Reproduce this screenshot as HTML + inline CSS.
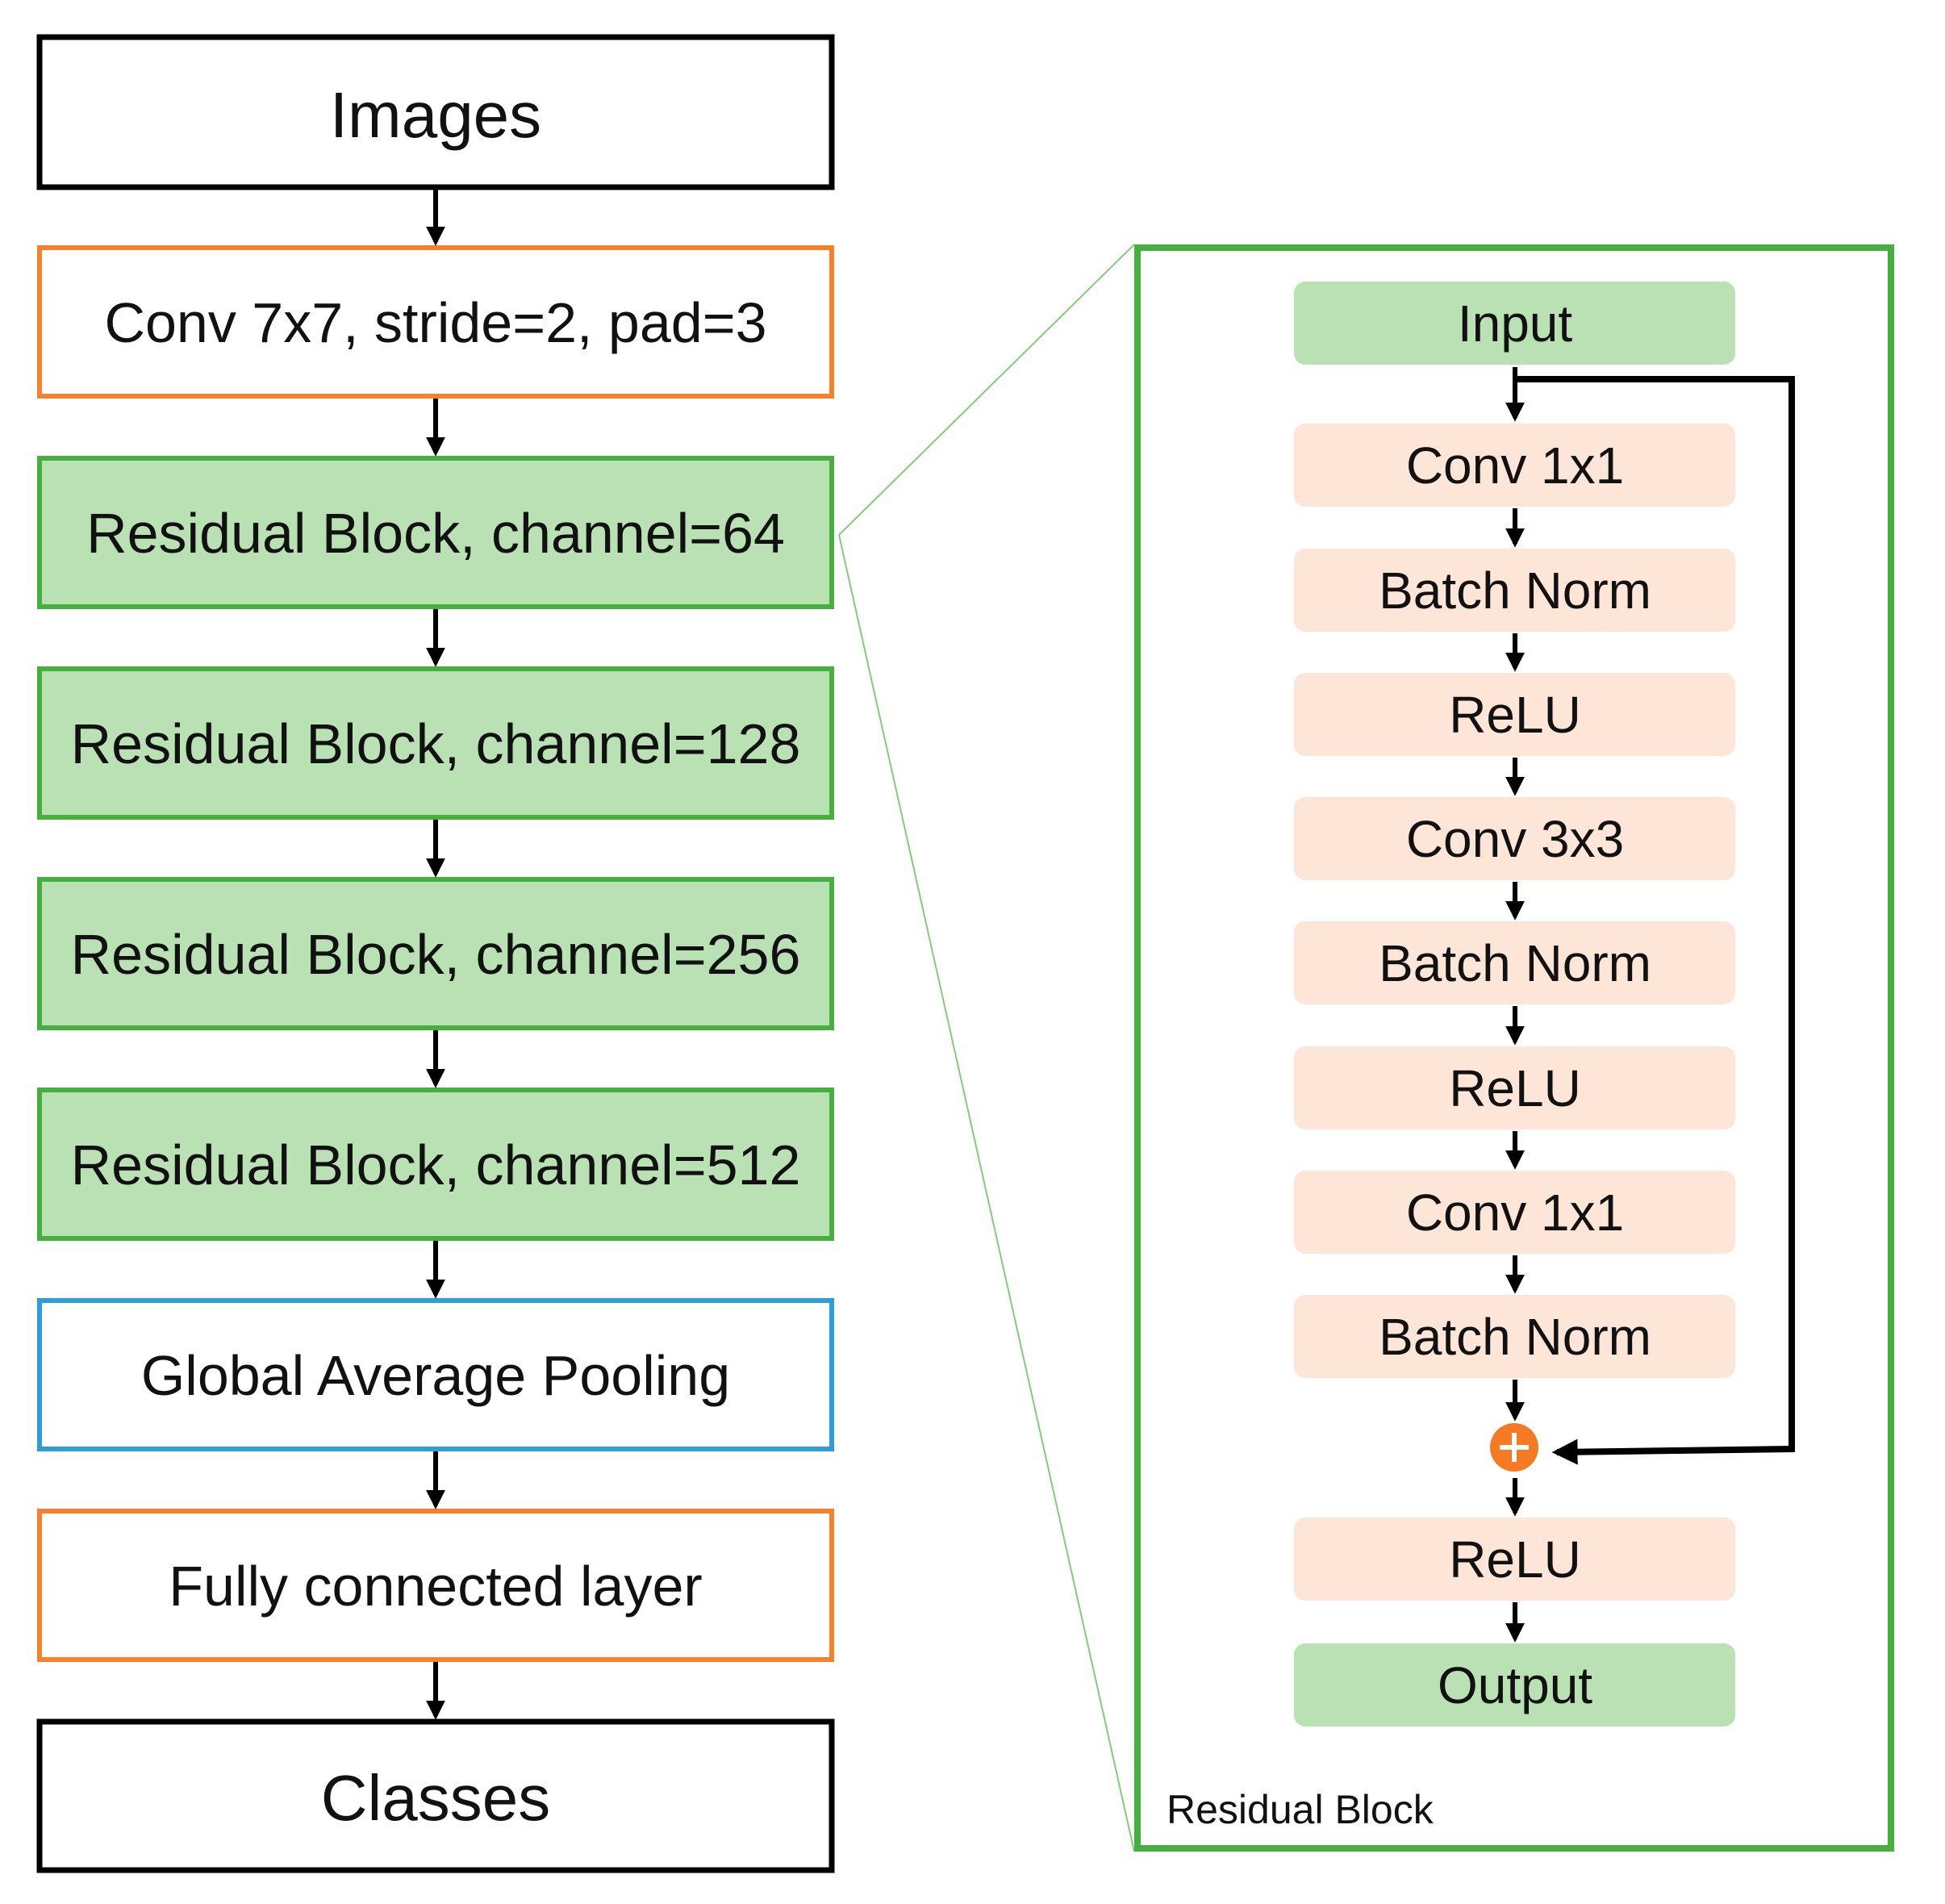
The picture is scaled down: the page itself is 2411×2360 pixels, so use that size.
<!DOCTYPE html>
<html><head><meta charset="utf-8"><style>
html,body{margin:0;padding:0;background:#fff;}
svg{display:block;}
text{font-family:"Liberation Sans",sans-serif;fill:#111;}
</style></head><body>
<svg width="2411" height="2360" viewBox="0 0 2411 2360" xmlns="http://www.w3.org/2000/svg">
<defs>
<marker id="ah" markerWidth="4" markerHeight="4" refX="3.2" refY="2" orient="auto" markerUnits="strokeWidth">
<path d="M0,0 L4,2 L0,4 z" fill="#000"/>
</marker>
</defs>
<line x1="1040" y1="663" x2="1406" y2="303" stroke="#7fcf77" stroke-width="2"/>
<line x1="1040" y1="663" x2="1406" y2="2295" stroke="#7fcf77" stroke-width="2"/>

<g stroke-width="6">
<rect x="49" y="46" width="982" height="186" fill="#fff" stroke="#000" stroke-width="7"/>
<rect x="49" y="307" width="982" height="184" fill="#fff" stroke="#f7802c"/>
<rect x="49" y="568" width="982" height="184" fill="#b9e1b4" stroke="#46b03e"/>
<rect x="49" y="829" width="982" height="184" fill="#b9e1b4" stroke="#46b03e"/>
<rect x="49" y="1090" width="982" height="184" fill="#b9e1b4" stroke="#46b03e"/>
<rect x="49" y="1351" width="982" height="184" fill="#b9e1b4" stroke="#46b03e"/>
<rect x="49" y="1612" width="982" height="184" fill="#fff" stroke="#2e9de0"/>
<rect x="49" y="1873" width="982" height="184" fill="#fff" stroke="#f7802c"/>
<rect x="49" y="2134" width="982" height="184" fill="#fff" stroke="#000" stroke-width="7"/>
</g>
<g text-anchor="middle" font-size="70">
<text x="540" y="170" font-size="80">Images</text>
<text x="540" y="424">Conv 7x7, stride=2, pad=3</text>
<text x="540" y="685">Residual Block, channel=64</text>
<text x="540" y="946">Residual Block, channel=128</text>
<text x="540" y="1207">Residual Block, channel=256</text>
<text x="540" y="1468">Residual Block, channel=512</text>
<text x="540" y="1729">Global Average Pooling</text>
<text x="540" y="1990">Fully connected layer</text>
<text x="540" y="2256" font-size="80">Classes</text>
</g>
<g stroke="#000" stroke-width="6" fill="none">
<line x1="540" y1="235" x2="540" y2="300" marker-end="url(#ah)"/>
<line x1="540" y1="494" x2="540" y2="561" marker-end="url(#ah)"/>
<line x1="540" y1="755" x2="540" y2="822" marker-end="url(#ah)"/>
<line x1="540" y1="1016" x2="540" y2="1083" marker-end="url(#ah)"/>
<line x1="540" y1="1277" x2="540" y2="1344" marker-end="url(#ah)"/>
<line x1="540" y1="1538" x2="540" y2="1605" marker-end="url(#ah)"/>
<line x1="540" y1="1799" x2="540" y2="1866" marker-end="url(#ah)"/>
<line x1="540" y1="2060" x2="540" y2="2127" marker-end="url(#ah)"/>
</g>

<rect x="1410" y="307" width="934" height="1984" fill="none" stroke="#46b03e" stroke-width="8"/>
<g>
<rect x="1604" y="349" width="547" height="103" rx="14" fill="#b9e1b4"/>
<rect x="1604" y="525" width="547" height="103" rx="14" fill="#fde5d8"/>
<rect x="1604" y="680" width="547" height="103" rx="14" fill="#fde5d8"/>
<rect x="1604" y="834" width="547" height="103" rx="14" fill="#fde5d8"/>
<rect x="1604" y="988" width="547" height="103" rx="14" fill="#fde5d8"/>
<rect x="1604" y="1142" width="547" height="103" rx="14" fill="#fde5d8"/>
<rect x="1604" y="1297" width="547" height="103" rx="14" fill="#fde5d8"/>
<rect x="1604" y="1451" width="547" height="103" rx="14" fill="#fde5d8"/>
<rect x="1604" y="1605" width="547" height="103" rx="14" fill="#fde5d8"/>
<rect x="1604" y="1881" width="547" height="103" rx="14" fill="#fde5d8"/>
<rect x="1604" y="2037" width="547" height="103" rx="14" fill="#b9e1b4"/>
</g>
<g text-anchor="middle" font-size="64">
<text x="1878" y="423">Input</text>
<text x="1878" y="599">Conv 1x1</text>
<text x="1878" y="754">Batch Norm</text>
<text x="1878" y="908">ReLU</text>
<text x="1878" y="1062">Conv 3x3</text>
<text x="1878" y="1216">Batch Norm</text>
<text x="1878" y="1371">ReLU</text>
<text x="1878" y="1525">Conv 1x1</text>
<text x="1878" y="1679">Batch Norm</text>
<text x="1878" y="1955">ReLU</text>
<text x="1878" y="2111">Output</text>
</g>
<text x="1446" y="2260" font-size="50">Residual Block</text>

<g stroke="#000" stroke-width="6" fill="none">
<line x1="1878" y1="455" x2="1878" y2="518" marker-end="url(#ah)"/>
<line x1="1878" y1="630" x2="1878" y2="674" marker-end="url(#ah)"/>
<line x1="1878" y1="785" x2="1878" y2="828" marker-end="url(#ah)"/>
<line x1="1878" y1="939" x2="1878" y2="982" marker-end="url(#ah)"/>
<line x1="1878" y1="1093" x2="1878" y2="1136" marker-end="url(#ah)"/>
<line x1="1878" y1="1247" x2="1878" y2="1291" marker-end="url(#ah)"/>
<line x1="1878" y1="1402" x2="1878" y2="1445" marker-end="url(#ah)"/>
<line x1="1878" y1="1556" x2="1878" y2="1599" marker-end="url(#ah)"/>
<line x1="1878" y1="1710" x2="1878" y2="1757" marker-end="url(#ah)"/>
<line x1="1878" y1="1832" x2="1878" y2="1875" marker-end="url(#ah)"/>
<line x1="1878" y1="1986" x2="1878" y2="2031" marker-end="url(#ah)"/>
<polyline points="1878,470 2221,470 2221,1796 1930,1800" stroke-width="8" marker-end="url(#ah)"/>
</g>
<circle cx="1877" cy="1794" r="30" fill="#f57a22"/>
<line x1="1877" y1="1776" x2="1877" y2="1812" stroke="#fff" stroke-width="6"/>
<line x1="1859" y1="1794" x2="1895" y2="1794" stroke="#fff" stroke-width="6"/>
</svg>
</body></html>
